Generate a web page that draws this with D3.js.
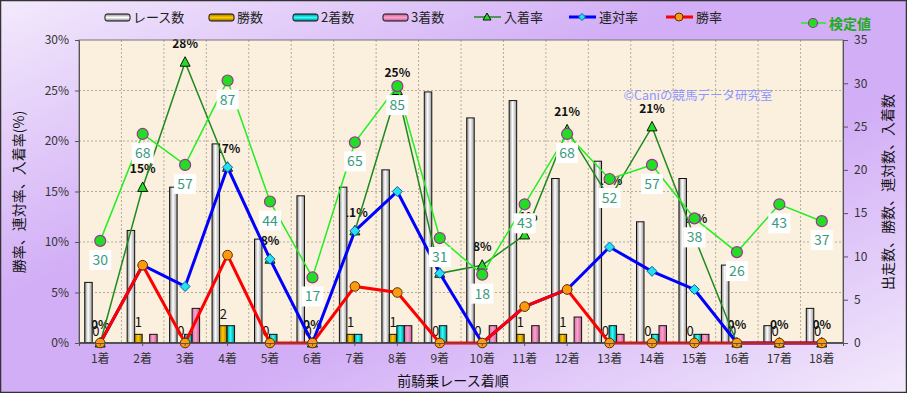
<!DOCTYPE html>
<html>
<head>
<meta charset="utf-8">
<script src="https://cdn.jsdelivr.net/npm/d3@7"></script>
<style>
  body { margin: 0; }
  svg { display: block; }
  text { font-family: "Noto Sans CJK JP", "Liberation Sans", sans-serif; }
</style>
</head>
<body>
<svg id="chart" width="907" height="393"></svg>
<script>
// --- data ---
const categories = ["1着","2着","3着","4着","5着","6着","7着","8着","9着","10着","11着","12着","13着","14着","15着","16着","17着","18着"];
const races   = [7, 13, 18, 23, 12, 17, 18, 20, 29, 26, 28, 19, 21, 14, 19, 9, 2, 4];
const wins    = [0, 1, 0, 2, 0, 0, 1, 1, 0, 0, 1, 1, 0, 0, 0, 0, 0, 0];
const seconds = [0, 0, 1, 2, 1, 0, 1, 2, 2, 0, 0, 0, 2, 1, 1, 0, 0, 0];
const thirds  = [0, 1, 4, 0, 0, 0, 0, 2, 0, 2, 2, 3, 1, 2, 1, 0, 0, 0];
const placeRate = [0, 15.4, 27.8, 17.4, 8.3, 0, 11.1, 25.0, 6.9, 7.7, 10.7, 21.1, 14.3, 21.4, 10.5, 0, 0, 0];
const rentaiRate = [0, 7.7, 5.6, 17.4, 8.3, 0, 11.1, 15.0, 6.9, 0, 3.6, 5.3, 9.5, 7.1, 5.3, 0, 0, 0];
const winRate = [0, 7.7, 0, 8.7, 0, 0, 5.6, 5.0, 0, 0, 3.6, 5.3, 0, 0, 0, 0, 0, 0];
const kentei = [30, 68, 57, 87, 44, 17, 65, 85, 31, 18, 43, 68, 52, 57, 38, 26, 43, 37];
const pctTicks = [0, 5, 10, 15, 20, 25, 30];
const countTicks = [0, 5, 10, 15, 20, 25, 30, 35];

const W = 907, H = 393;
const pL = 79, pR = 843, pT = 40, pB = 343;

const svg = d3.select("#chart");
const defs = svg.append("defs");

function grad(id, stops, vertical) {
    const g = defs.append("linearGradient").attr("id", id)
        .attr("x1", 0).attr("y1", 0)
        .attr("x2", vertical ? 0 : 1).attr("y2", vertical ? 1 : 0);
    stops.forEach(s => g.append("stop").attr("offset", s[0]).attr("stop-color", s[1]));
}
grad("gRace", [[0, "#8a8a8a"], [0.45, "#ffffff"], [1, "#9a9a9a"]]);
grad("gWin", [[0, "#b08000"], [0.45, "#ffcc00"], [1, "#a07000"]]);
grad("gSecond", [[0, "#00a0a0"], [0.45, "#30ffff"], [1, "#009090"]]);
grad("gThird", [[0, "#d070a0"], [0.45, "#ffa0d0"], [1, "#c06090"]]);
grad("lRace", [[0, "#8a8a8a"], [0.5, "#ffffff"], [1, "#8a8a8a"]], true);
grad("lWin", [[0, "#a07000"], [0.5, "#ffcc00"], [1, "#a07000"]], true);
grad("lSecond", [[0, "#008888"], [0.5, "#30ffff"], [1, "#008888"]], true);
grad("lThird", [[0, "#c06090"], [0.5, "#ffa0d0"], [1, "#c06090"]], true);
const bg = defs.append("linearGradient").attr("id", "bg")
    .attr("x1", 0).attr("y1", 0).attr("x2", 1).attr("y2", 1);
[[0, "#f3eafc"], [0.38, "#d2aef6"], [0.62, "#d2aef6"], [1, "#f3eafc"]]
    .forEach(s => bg.append("stop").attr("offset", s[0]).attr("stop-color", s[1]));

// background
svg.append("rect").attr("x", 0.5).attr("y", 0.5).attr("width", W - 1).attr("height", H - 1)
    .attr("fill", "url(#bg)").attr("stroke", "#333").attr("stroke-width", 1.5);
svg.append("rect").attr("x", pL).attr("y", pT).attr("width", pR - pL).attr("height", pB - pT)
    .attr("fill", "#faf0dd");

// scales
const x = d3.scaleBand().domain(categories).range([pL, pR]).padding(0);
const sub = d3.scaleBand().domain(["race", "win", "second", "third"]).range([0, 30]).padding(0);
const yPct = d3.scaleLinear().domain([0, 30]).range([pB, pT]);
const yCount = d3.scaleLinear().domain([0, 35]).range([pB, pT]);
const yKentei = d3.scaleLinear().domain([-6.3, 101.4]).range([pB, pT]);
const cx = c => x(c) + x.bandwidth() / 2;
const barX = (c, k) => x(c) + x.bandwidth() / 2 - 15.5 + sub(k);

// grid
const grid = svg.append("g").attr("stroke", "#a09a90").attr("stroke-dasharray", "2,2").attr("stroke-width", 0.8);
pctTicks.slice(1, -1).forEach(t => {
    grid.append("line").attr("x1", pL).attr("x2", pR).attr("y1", yPct(t)).attr("y2", yPct(t));
});
categories.slice(1).forEach(c => {
    grid.append("line").attr("x1", x(c)).attr("x2", x(c)).attr("y1", pT).attr("y2", pB);
});

// place-rate labels (sit under the bars)
svg.append("g").selectAll("text").data(categories).enter().append("text")
    .attr("x", d => cx(d)).attr("y", (d, i) => yPct(placeRate[i]) - 14)
    .attr("text-anchor", "middle").attr("font-size", 12).attr("font-weight", "bold").attr("fill", "#111")
    .text((d, i) => Math.round(placeRate[i]) + "%");

// bars
const barSeries = [
    { key: "race", values: races, fill: "url(#gRace)" },
    { key: "win", values: wins, fill: "url(#gWin)" },
    { key: "second", values: seconds, fill: "url(#gSecond)" },
    { key: "third", values: thirds, fill: "url(#gThird)" }
];
const bars = svg.append("g");
barSeries.forEach(s => {
    bars.selectAll(".b-" + s.key).data(categories.filter((d, i) => s.values[i] > 0)).enter()
        .append("rect").attr("class", "b-" + s.key)
        .attr("x", d => barX(d, s.key)).attr("width", sub.bandwidth())
        .attr("y", d => yCount(s.values[categories.indexOf(d)]))
        .attr("height", d => pB - yCount(s.values[categories.indexOf(d)]))
        .attr("fill", s.fill).attr("stroke", "#111").attr("stroke-width", 1);
});

// win count labels
svg.append("g").selectAll("text").data(categories).enter().append("text")
    .attr("x", d => barX(d, "win") + sub.bandwidth() / 2)
    .attr("y", (d, i) => yCount(wins[i]) - 7)
    .attr("text-anchor", "middle").attr("font-size", 13).attr("fill", "#111")
    .text((d, i) => wins[i]);

// plot frame
svg.append("rect").attr("x", pL).attr("y", pT).attr("width", pR - pL).attr("height", pB - pT)
    .attr("fill", "none").attr("stroke", "#777").attr("stroke-width", 1);
svg.append("line").attr("x1", pL).attr("x2", pR).attr("y1", pB).attr("y2", pB)
    .attr("stroke", "#333").attr("stroke-width", 1.5);

// place rate line
const line = arr => d3.line().x(d => cx(d)).y((d, i) => yPct(arr[i]));
svg.append("path").datum(categories).attr("d", line(placeRate))
    .attr("fill", "none").attr("stroke", "#1f8a1f").attr("stroke-width", 1.5);
svg.append("g").selectAll("path").data(categories).enter().append("path")
    .attr("transform", (d, i) => `translate(${cx(d)},${yPct(placeRate[i])})`)
    .attr("d", "M0,-5.5L5,4L-5,4Z")
    .attr("fill", "#22dd22").attr("stroke", "#111").attr("stroke-width", 1);

// rentai line
svg.append("path").datum(categories).attr("d", line(rentaiRate))
    .attr("fill", "none").attr("stroke", "#0000ff").attr("stroke-width", 3);
svg.append("g").selectAll("path").data(categories).enter().append("path")
    .attr("transform", (d, i) => `translate(${cx(d)},${yPct(rentaiRate[i])})`)
    .attr("d", "M0,-5L5,0L0,5L-5,0Z")
    .attr("fill", "#22e0f0").attr("stroke", "#1060a0").attr("stroke-width", 1);

// win rate line
svg.append("path").datum(categories).attr("d", line(winRate))
    .attr("fill", "none").attr("stroke", "#ff0000").attr("stroke-width", 3);
svg.append("g").selectAll("circle").data(categories).enter().append("circle")
    .attr("cx", d => cx(d)).attr("cy", (d, i) => yPct(winRate[i])).attr("r", 4.8)
    .attr("fill", "#ff9a10").attr("stroke", "#553300").attr("stroke-width", 1);

// kentei line
svg.append("path").datum(categories)
    .attr("d", d3.line().x(d => cx(d)).y((d, i) => yKentei(kentei[i])))
    .attr("fill", "none").attr("stroke", "#22ee22").attr("stroke-width", 1.5);
svg.append("g").selectAll("circle").data(categories).enter().append("circle")
    .attr("cx", d => cx(d)).attr("cy", (d, i) => yKentei(kentei[i])).attr("r", 5.5)
    .attr("fill", "#22dd22").attr("stroke", "#993399").attr("stroke-width", 1.2);
const kLab = svg.append("g").selectAll("g").data(categories).enter().append("g")
    .attr("transform", (d, i) => `translate(${cx(d)},${yKentei(kentei[i]) + 19})`);
kLab.append("rect").attr("x", -11).attr("y", -10).attr("width", 22).attr("height", 20).attr("fill", "#fff");
kLab.append("text").attr("text-anchor", "middle").attr("dy", "0.36em")
    .attr("font-size", 14).attr("fill", "#3a9a7e").attr("font-family", "Liberation Sans, sans-serif")
    .text((d, i) => kentei[i]);

// watermark
svg.append("text").attr("x", 698).attr("y", 100).attr("text-anchor", "middle")
    .attr("font-size", 12.5).attr("fill", "#8f96ff").text("©Caniの競馬データ研究室");

// axes
const axL = svg.append("g").attr("transform", `translate(${pL},0)`)
    .call(d3.axisLeft(yPct).tickValues(pctTicks).tickFormat(d => d + "%").tickSize(4).tickPadding(6));
const axR = svg.append("g").attr("transform", `translate(${pR},0)`)
    .call(d3.axisRight(yCount).tickValues(countTicks).tickSize(5).tickPadding(6));
const axB = svg.append("g").attr("transform", `translate(0,${pB})`)
    .call(d3.axisBottom(x).tickSize(3).tickPadding(8));
[axL, axR, axB].forEach(a => {
    a.select(".domain").attr("stroke", "#555");
    a.selectAll(".tick line").attr("stroke", "#555");
    a.selectAll("text").attr("font-size", 12).attr("fill", "#333")
        .attr("font-family", "Noto Sans CJK JP, sans-serif");
});

// axis titles
svg.append("text").attr("transform", "translate(453,386)").attr("text-anchor", "middle")
    .attr("font-size", 14).attr("fill", "#111").text("前騎乗レース着順");
svg.append("text").attr("transform", "translate(24,192) rotate(-90)").attr("text-anchor", "middle")
    .attr("font-size", 14).attr("fill", "#111").text("勝率、連対率、入着率(%)");
svg.append("text").attr("transform", "translate(893,192) rotate(-90)").attr("text-anchor", "middle")
    .attr("font-size", 14).attr("fill", "#111").text("出走数、勝数、連対数、入着数");

// legend
const legBars = [
    { x: 105, label: "レース数", fill: "url(#lRace)" },
    { x: 209, label: "勝数", fill: "url(#lWin)" },
    { x: 293, label: "2着数", fill: "url(#lSecond)" },
    { x: 383, label: "3着数", fill: "url(#lThird)" }
];
legBars.forEach(l => {
    svg.append("rect").attr("x", l.x).attr("y", 14).attr("width", 25).attr("height", 7).attr("rx", 2)
        .attr("fill", l.fill).attr("stroke", "#111").attr("stroke-width", 1);
    svg.append("text").attr("x", l.x + 28).attr("y", 22).attr("font-size", 13).attr("fill", "#222").text(l.label);
});
const legLines = [
    { x: 474, label: "入着率", color: "#1f8a1f", w: 1.5 },
    { x: 569, label: "連対率", color: "#0000ff", w: 3 },
    { x: 666, label: "勝率", color: "#ff0000", w: 3 }
];
legLines.forEach(l => {
    svg.append("line").attr("x1", l.x).attr("x2", l.x + 27).attr("y1", 17).attr("y2", 17)
        .attr("stroke", l.color).attr("stroke-width", l.w);
    svg.append("text").attr("x", l.x + 30).attr("y", 22).attr("font-size", 13).attr("fill", "#222").text(l.label);
});
svg.append("path").attr("transform", "translate(487,17)").attr("d", "M0,-4L4,3L-4,3Z")
    .attr("fill", "#22dd22").attr("stroke", "#111").attr("stroke-width", 1);
svg.append("path").attr("transform", "translate(582,17)").attr("d", "M0,-3.5L3.5,0L0,3.5L-3.5,0Z")
    .attr("fill", "#22e0f0").attr("stroke", "#1060a0").attr("stroke-width", 1);
svg.append("circle").attr("cx", 679).attr("cy", 17).attr("r", 4)
    .attr("fill", "#ff9a10").attr("stroke", "#553300").attr("stroke-width", 1);
svg.append("line").attr("x1", 801).attr("x2", 826).attr("y1", 23).attr("y2", 23)
    .attr("stroke", "#22ee22").attr("stroke-width", 1.5);
svg.append("circle").attr("cx", 813).attr("cy", 23).attr("r", 4.5)
    .attr("fill", "#22dd22").attr("stroke", "#993399").attr("stroke-width", 1.2);
svg.append("text").attr("x", 829).attr("y", 29).attr("font-size", 14).attr("font-weight", "bold")
    .attr("fill", "#22aa22").text("検定値");
</script>
</body>
</html>
